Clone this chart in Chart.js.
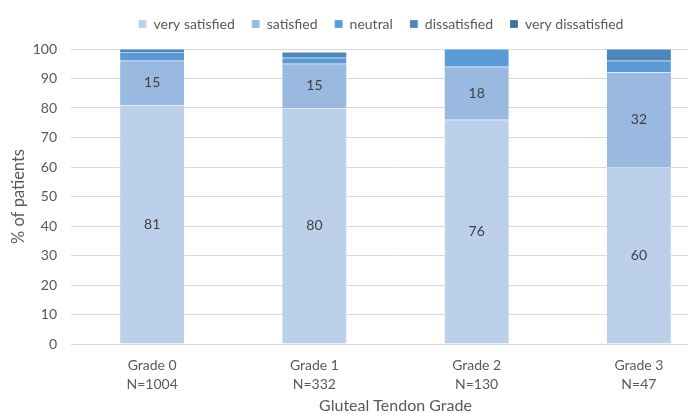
<!DOCTYPE html>
<html lang="en">
<head>
  <meta charset="UTF-8">
  <title>Satisfaction by Gluteal Tendon Grade</title>
  <script src="https://cdn.jsdelivr.net/npm/chart.js"></script>
  <style>
    html, body {
      margin: 0;
      padding: 0;
      background: #fff;
      overflow: hidden;
    }

    /* the plot runs past the right edge of the window, as in the original */
    .chart-container {
      width: 760px;
      height: 414px;
    }
  </style>
</head>
<body>
  <div class="chart-container">
    <canvas id="satChart"></canvas>
  </div>

  <script>
    // Data (% of patients)
    const grades = ["Grade 0", "Grade 1", "Grade 2", "Grade 3"];
    const counts = ["N=1004", "N=332", "N=130", "N=47"];

    const verySatisfied = [81, 80, 76, 60];
    const satisfied = [15, 15, 18, 32];
    const neutral = [3, 2, 6, 4];
    const dissatisfied = [1, 2, 0, 4];
    const veryDissatisfied = [0, 0, 0, 0];

    const yTicks = [0, 10, 20, 30, 40, 50, 60, 70, 80, 90, 100];

    const fontFamily = "Lato, 'Open Sans', sans-serif";
    const textColor = "#595959";

    // Prints the value in the middle of the two big segments
    const segmentLabels = {
      id: "segmentLabels",
      afterDatasetsDraw(chart) {
        const ctx = chart.ctx;
        ctx.save();
        ctx.font = "14px " + fontFamily;
        ctx.fillStyle = "#404040";
        ctx.textAlign = "center";
        ctx.textBaseline = "middle";
        [0, 1].forEach(i => {
          const meta = chart.getDatasetMeta(i);
          meta.data.forEach((bar, j) => {
            const v = chart.data.datasets[i].data[j];
            if (!v) return;
            ctx.fillText(v, bar.x, (bar.y + bar.base) / 2);
          });
        });
        ctx.restore();
      }
    };

    // Legend box: fixed height, and nudged right to sit over the plot like the original
    const legendPlace = {
      id: "legendPlace",
      beforeInit(chart) {
        const fit = chart.legend.fit;
        chart.legend.fit = function () {
          fit.call(this);
          this.height = 49;
        };
      },
      afterUpdate(chart) {
        chart.legend.left += 21;
        chart.legend.right += 21;
      }
    };

    function makeSet(label, data, color) {
      return {
        label: label,
        data: data,
        backgroundColor: color,
        borderColor: "rgba(255,255,255,0.5)",
        borderWidth: 0.5,
        barPercentage: 0.4,
        categoryPercentage: 1.0
      };
    }

    const ctx = document.getElementById("satChart").getContext("2d");

    new Chart(ctx, {
      type: "bar",
      data: {
        labels: grades.map((g, i) => [g, counts[i]]),
        datasets: [
          makeSet("very satisfied", verySatisfied, "#bdd0ea"),
          makeSet("satisfied", satisfied, "#99b9e0"),
          makeSet("neutral", neutral, "#5b9bd5"),
          makeSet("dissatisfied", dissatisfied, "#4e86ba"),
          makeSet("very dissatisfied", veryDissatisfied, "#41709f")
        ]
      },
      options: {
        responsive: true,
        maintainAspectRatio: false,
        animation: false,
        layout: {
          padding: { left: 0, right: 40, top: 0, bottom: 0 }
        },
        plugins: {
          legend: {
            position: "top",
            labels: {
              boxWidth: 8,
              boxHeight: 8,
              padding: 17,
              color: textColor,
              font: { family: fontFamily, size: 14 }
            }
          },
          tooltip: { enabled: false }
        },
        scales: {
          x: {
            stacked: true,
            afterFit: axis => { axis.height = 70; },
            grid: { display: false, drawTicks: false },
            border: { color: "#d9d9d9" },
            ticks: {
              color: textColor,
              font: { family: fontFamily, size: 14, lineHeight: 1.36 },
              padding: 12
            },
            title: {
              display: true,
              text: "Gluteal Tendon Grade",
              color: textColor,
              font: { family: fontFamily, size: 16, lineHeight: 1.0 },
              padding: { top: 0, bottom: 0 }
            }
          },
          y: {
            stacked: true,
            min: 0,
            max: 100,
            afterFit: axis => { axis.width = 71; },
            afterBuildTicks: axis => {
              axis.ticks = yTicks.map(v => ({ value: v }));
            },
            grid: { color: "#d9d9d9", drawTicks: false },
            border: { display: false },
            ticks: {
              color: textColor,
              font: { family: fontFamily, size: 14 },
              padding: 14
            },
            title: {
              display: true,
              text: "% of patients",
              color: textColor,
              font: { family: fontFamily, size: 16.5 },
              padding: { top: 8.6, bottom: 0 }
            }
          }
        }
      },
      plugins: [segmentLabels, legendPlace]
    });
  </script>
</body>
</html>
